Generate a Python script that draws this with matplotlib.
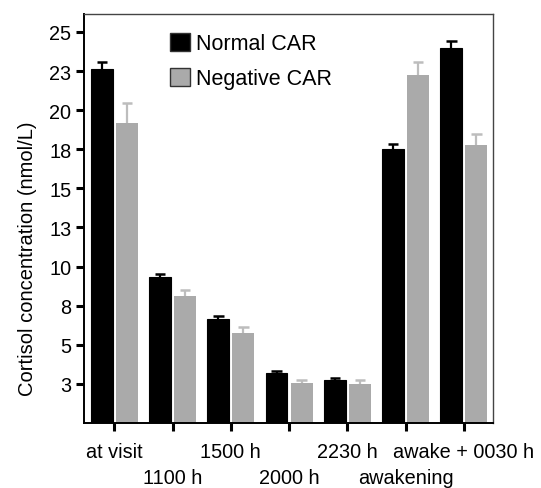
import matplotlib
matplotlib.use("Agg")
import matplotlib.pyplot as plt
import numpy as np
from matplotlib.ticker import FuncFormatter

plt.rcParams['font.family'] = ['Liberation Sans', 'DejaVu Sans']

categories = ["at visit", "1100 h", "1500 h", "2000 h", "2230 h", "awakening", "awake + 0030 h"]
normal = [22.65, 9.32, 6.65, 3.2, 2.76, 17.49, 23.99]
normal_err = [0.45, 0.18, 0.21, 0.11, 0.10, 0.34, 0.45]
negative = [19.2, 8.11, 5.75, 2.56, 2.5, 22.27, 17.8]
negative_err = [1.24, 0.39, 0.36, 0.21, 0.27, 0.83, 0.66]
yticks = [2.5, 5, 7.5, 10, 12.5, 15, 17.5, 20, 22.5, 25]

black = "#000000"
grey = "#aaaaaa"
grey_err = "#bdbdbd"

fig = plt.figure(figsize=(5.41, 4.89), dpi=100)
ax = fig.add_axes([84/541, 1-424/489, (493-84)/541, (424-15)/489])

x = np.arange(len(categories))
w = 0.375
off = 0.215
cap = 0.09

ax.bar(x - off, normal, width=w, color=black, label="Normal CAR", edgecolor=black, linewidth=0.8, zorder=2)
ax.bar(x + off, negative, width=w, color=grey, label="Negative CAR", edgecolor=grey, linewidth=0.0, zorder=2)

nt = np.array(normal); ne = np.array(normal_err)
gt = np.array(negative); ge = np.array(negative_err)
ax.vlines(x - off, nt, nt + ne, color=black, linewidth=1.6, zorder=1)
ax.hlines(nt + ne, x - off - cap, x - off + cap, color=black, linewidth=1.8, zorder=1)
ax.vlines(x + off, gt, gt + ge, color=grey_err, linewidth=1.6, zorder=1)
ax.hlines(gt + ge, x + off - cap, x + off + cap, color=grey_err, linewidth=1.8, zorder=1)

ax.set_xlim(-0.52, 6.5)
ax.set_ylim(0, 26.15)
ax.set_yticks(yticks)
ax.yaxis.set_major_formatter(FuncFormatter(lambda v, p: "%d" % int(v + 0.5)))
ax.set_xticks(x)
ax.set_xticklabels(categories)

ax.tick_params(axis='both', direction='out', length=6, width=2.2, labelsize=14.3, color='black')
ax.tick_params(axis='y', pad=3)
for i, t in enumerate(ax.xaxis.get_major_ticks()):
    t.set_pad(7.8 if i % 2 == 0 else 7.8 + 18.5)

for s in ['left', 'bottom']:
    ax.spines[s].set_linewidth(1.4)
    ax.spines[s].set_color('black')
for s in ['top', 'right']:
    ax.spines[s].set_linewidth(1.0)
    ax.spines[s].set_color('#444444')

ax.set_ylabel("Cortisol concentration (nmol/L)", fontsize=14.5)
ax.yaxis.set_label_coords((37 - 84) / 409, (424 - 259) / 409)

leg = ax.legend(loc='upper left', bbox_to_anchor=(170/541, 1-34/489), bbox_transform=fig.transFigure,
                frameon=False, fontsize=15.5, handlelength=0.92, handleheight=0.92,
                handletextpad=0.3, labelspacing=0.62, borderpad=0, borderaxespad=0)
for h in leg.legend_handles:
    h.set_edgecolor('#333333')
    h.set_linewidth(1.0)

fig.savefig("out.png", dpi=100)
